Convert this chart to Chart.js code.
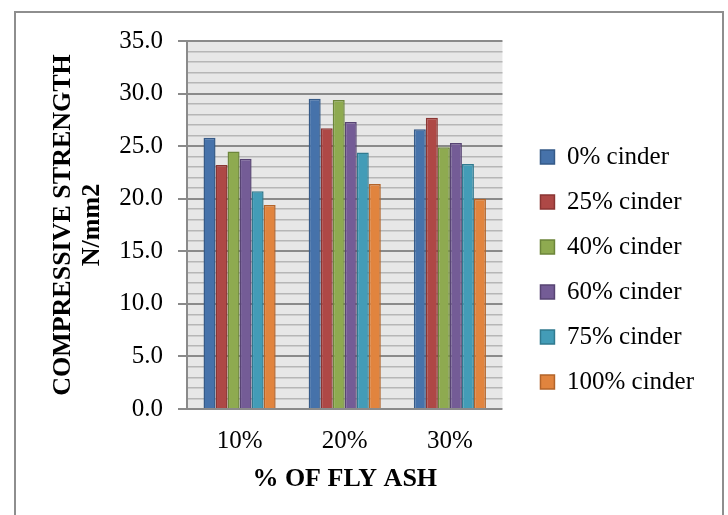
<!DOCTYPE html>
<html>
<head>
<meta charset="utf-8">
<title>Compressive strength vs fly ash</title>
<script src="https://cdn.jsdelivr.net/npm/chart.js@4/dist/chart.umd.min.js"></script>
<style>
  html, body { margin: 0; padding: 0; background: #ffffff; }
  #wrap { width: 728px; height: 515px; }
</style>
</head>
<body>
<div id="wrap"><canvas id="chart" width="728" height="515"></canvas></div>
<script>
// Fly ash replacement levels (x categories)
const categories = ['10%', '20%', '30%'];

// Cinder replacement series names
const seriesNames = ['0% cinder', '25% cinder', '40% cinder', '60% cinder', '75% cinder', '100% cinder'];

// Compressive strength, N/mm2, one array per cinder level
const cinder0   = [25.8, 29.5, 26.6];
const cinder25  = [23.2, 26.7, 27.7];
const cinder40  = [24.5, 29.4, 24.9];
const cinder60  = [23.8, 27.3, 25.3];
const cinder75  = [20.7, 24.4, 23.3];
const cinder100 = [19.4, 21.4, 20.0];

// Value axis range
const yMin = 0;
const yMax = 35;
const yMajorStep = 5;
const yMinorStep = 1;

const seriesValues = [cinder0, cinder25, cinder40, cinder60, cinder75, cinder100];
const fills   = ['#4672AA', '#AE4846', '#8EAA50', '#745C96', '#439CB7', '#E1843E'];
const borders = ['#355A88', '#8A3533', '#6C853A', '#574473', '#307A8F', '#B3642A'];

const FONT = '"Liberation Serif", "Times New Roman", Times, serif';

// Grey plot background and the outer frame
const decor = {
  id: 'decor',
  beforeDraw(chart) {
    const {ctx, chartArea: a} = chart;
    ctx.save();
    ctx.fillStyle = '#ffffff';
    ctx.fillRect(0, 0, chart.width, chart.height);
    ctx.fillStyle = '#e7e7e7';
    ctx.fillRect(a.left, a.top, a.right - a.left, a.bottom - a.top);
    ctx.strokeStyle = '#8e8e8e';
    ctx.lineWidth = 2;
    ctx.strokeRect(15, 12, 708, 540);
    ctx.restore();
  }
};

const datasets = seriesNames.map((name, i) => ({
  label: name,
  data: seriesValues[i],
  backgroundColor: fills[i],
  borderColor: borders[i],
  borderWidth: 1.5,
  categoryPercentage: 0.686,
  barPercentage: 1.0
}));

new Chart(document.getElementById('chart'), {
  type: 'bar',
  data: { labels: categories, datasets },
  plugins: [decor],
  options: {
    responsive: false,
    animation: false,
    devicePixelRatio: 1,
    layout: { padding: { left: 20, top: 41, right: 24, bottom: 17 } },
    plugins: {
      tooltip: { enabled: false },
      legend: {
        position: 'right',
        align: 'center',
        maxWidth: 320,
        labels: {
          boxWidth: 14,
          boxHeight: 14,
          padding: 20,
          color: '#000000',
          font: { family: FONT, size: 25 }
        }
      }
    },
    scales: {
      x: {
        grid: { display: false, drawTicks: false },
        border: { display: false },
        ticks: { color: '#000000', padding: 17, font: { family: FONT, size: 25 } },
        title: {
          display: true,
          text: '% OF FLY ASH',
          color: '#000000',
          padding: { top: 0, bottom: 4 },
          font: { family: FONT, size: 26, weight: 'bold', lineHeight: 1.1 }
        },
        afterFit(scale) { scale.height = 89; }
      },
      y: {
        min: yMin,
        max: yMax,
        border: { display: true, color: '#8a8a8a', width: 2 },
        grid: {
          color: (c) => (c.tick && c.tick.value % yMajorStep === 0) ? '#8a8a8a' : '#b6b6b6',
          lineWidth: (c) => (c.tick && c.tick.value % yMajorStep === 0) ? 2 : 1.5,
          tickColor: (c) => (c.tick && c.tick.value % yMajorStep === 0) ? '#8a8a8a' : 'rgba(0,0,0,0)',
          tickLength: 9,
          drawTicks: true
        },
        ticks: {
          stepSize: yMinorStep,
          autoSkip: false,
          color: '#000000',
          padding: 15,
          font: { family: FONT, size: 25 },
          callback: (v) => (v % yMajorStep === 0) ? Number(v).toFixed(1) : ''
        },
        title: {
          display: true,
          text: ['COMPRESSIVE STRENGTH', 'N/mm2'],
          color: '#000000',
          padding: { top: 29, bottom: 0 },
          font: { family: FONT, size: 26, weight: 'bold', lineHeight: 1.1 }
        },
        afterFit(scale) { scale.width = 167; }
      },
      gap: {
        type: 'linear',
        position: 'right',
        display: true,
        grid: { display: false, drawTicks: false },
        border: { display: false },
        ticks: { display: false },
        afterFit(scale) { scale.width = 18; }
      }
    }
  }
});
</script>
</body>
</html>
